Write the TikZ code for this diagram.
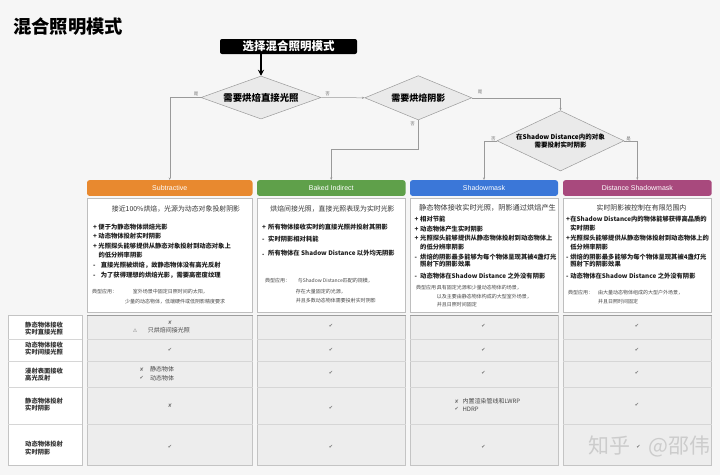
\documentclass[tikz,border=0pt]{standalone}
\usepackage{fontspec}
\setmainfont{Noto Sans CJK SC}
\newfontfamily\hdrfont{Liberation Sans}
\newfontfamily\symfont{DejaVu Sans}
\usetikzlibrary{shapes.geometric,arrows.meta}
\newcommand\fsz[1]{\fontsize{#1}{#1}\selectfont}
\newcommand\pfx[2]{\makebox[#1][l]{#2}}
\definecolor{bgc}{HTML}{F6F6F6}
\definecolor{cOrange}{HTML}{E8892F}
\definecolor{cGreen}{HTML}{5FA04A}
\definecolor{cBlue}{HTML}{3B77D8}
\definecolor{cPurple}{HTML}{A8497D}
\definecolor{lineG}{HTML}{9A9A9A}
\definecolor{dfill}{HTML}{EAEAEA}
\definecolor{cellF}{HTML}{EDEDED}
\definecolor{cellB}{HTML}{C4C4C4}
\definecolor{rowL}{HTML}{D6D6D6}
\definecolor{boxB}{HTML}{BEBEBE}
\tikzset{
  hdr/.style={rounded corners=2.5pt, inner sep=0, minimum height=15.7pt, text=white, font=\hdrfont\fsz{7}},
  cbox/.style={draw=boxB, fill=white, line width=0.5pt, inner sep=0},
  dia/.style={diamond, draw=lineG, fill=dfill, line width=0.5pt, inner sep=0},
  conn/.style={draw=lineG, line width=0.5pt, -{Stealth[length=2.6pt,width=2.2pt]}},
  lbl/.style={font=\fsz{4.5}, text=black!55, inner sep=0},
  ttl/.style={inner sep=0, anchor=center, font=\fsz{6.9}, text=black!80},
  item/.style={inner sep=0, anchor=west, font=\bfseries\fsz{6.3}, text=black!88},
  typ/.style={inner sep=0, anchor=west, font=\fsz{5}, text=black!72},
  lab/.style={anchor=west, inner sep=0, align=left, font=\bfseries\fontsize{6.3}{7.4}\selectfont, text=black!80},
  sym/.style={inner sep=0, font=\symfont\fsz{5}, text=black!55},
  ctext/.style={inner sep=0, anchor=west, font=\fsz{6}, text=black!72},
  wmark/.style={anchor=west, inner sep=0, font=\fsz{21}, text=black!20},
}
\begin{document}
\begin{tikzpicture}[x=1pt,y=-1pt]
\fill[bgc] (0,0) rectangle (720,475);
\useasboundingbox (0,0) rectangle (720,475);

% title
\node[anchor=west, font=\bfseries\fsz{18.3}, inner sep=0] (title) at (13,27) {混合照明模式};

% flow
\node[fill=black, rounded corners=2pt, minimum width=137pt, minimum height=15pt, text=white, font=\bfseries\fsz{11.5}, inner sep=0] (start) at (288.5,46.5) {选择混合照明模式};
\node[dia, minimum width=120pt, minimum height=43pt, shape aspect=2.8, font=\bfseries\fsz{9.4}] (d1) at (261,97.5) {需要烘焙直接光照};
\node[dia, minimum width=107pt, minimum height=44.3pt, shape aspect=2.4, font=\bfseries\fsz{9}] (d2) at (418.3,97.8) {需要烘焙阴影};
\node[dia, minimum width=127pt, minimum height=60.3pt, shape aspect=2.1, align=center, font=\bfseries\fontsize{6.5}{8.4}\selectfont] (d3) at (560.5,140.8) {在Shadow Distance内的对象\\需要投射实时阴影};

% headers
\node[hdr, fill=cOrange, minimum width=165.5pt] (subh) at (169.75,188) {Subtractive};
\node[hdr, fill=cGreen, minimum width=148.5pt] (bakh) at (331.25,188) {Baked Indirect};
\node[hdr, fill=cBlue, minimum width=148pt] (smh) at (484,188) {Shadowmask};
\node[hdr, fill=cPurple, minimum width=148.7pt] (dsh) at (637.35,188) {Distance Shadowmask};

% connectors
\draw[line width=1.6pt, -{Stealth[length=6pt,width=6pt]}] (start.south -| d1.north) -- (d1.north);
\coordinate (kinkB) at (418.3,149);
\draw[conn] (d1.west) -| (subh.north);
\draw[conn] (d1.east) -- (d2.west);
\draw[conn] (d2.south) -- (kinkB) -| (bakh.north);
\draw[conn] (d2.east) -| (d3.north);
\draw[conn] (d3.west) -| (smh.north);
\draw[conn] (d3.east) -| (dsh.north);
\node[lbl] (l1) at (196,94) {是};
\node[lbl] (l2) at (327.7,94) {否};
\node[lbl] (l3) at (480,92.3) {是};
\node[lbl] (l4) at (412.7,123.5) {否};
\node[lbl] (l5) at (493.3,138.7) {否};
\node[lbl] (l6) at (628.7,139.3) {是};

% content boxes
\node[cbox, minimum width=165.5pt, minimum height=114pt] (subb) at (169.75,255) {};
\node[cbox, minimum width=148.5pt, minimum height=114pt] (bakb) at (331.25,255) {};
\node[cbox, minimum width=148pt, minimum height=114pt] (smb) at (484,255) {};
\node[cbox, minimum width=148.7pt, minimum height=114pt] (dsb) at (637.35,255) {};

% Subtractive text
\node[ttl] (s0) at (176,209) {接近100\%烘焙，光源为动态对象投射阴影};
\node[item] (s1) at (93,226.7) {\pfx{5.3pt}{+}便于为静态物体烘焙光影};
\node[item] (s2) at (93,236) {\pfx{5.3pt}{+}动态物体投射实时阴影};
\node[item] (s3) at (93,245.7) {\pfx{5.3pt}{+}光照探头能够提供从静态对象投射到动态对象上};
\node[item] (s4) at (98.3,255) {的低分辨率阴影};
\node[item] (s5) at (93,265.7) {\pfx{7.7pt}{-}直接光照被烘焙，故静态物体没有高光反射};
\node[item] (s6) at (93,275) {\pfx{7.7pt}{-}为了获得理想的烘焙光影，需要高密度纹理};
\node[typ] (s7) at (92,292) {典型应用：};
\node[typ] (s8) at (132.7,292) {室外场景中固定日照时间的太阳，};
\node[typ] (s9) at (125,302) {少量的动态物体，低端硬件或低阴影精度要求};

% Baked Indirect text
\node[ttl] (b0) at (332.5,209) {烘焙间接光照，直接光照表现为实时光影};
\node[item] (b1) at (262,227) {\pfx{6pt}{+}所有物体接收实时的直接光照并投射其阴影};
\node[item] (b2) at (262,239) {\pfx{6pt}{-}实时阴影相对耗能};
\node[item] (b3) at (262,253) {\pfx{6pt}{.}所有物体在 Shadow Distance 以外均无阴影};
\node[typ] (b4) at (265,281) {典型应用：};
\node[typ] (b5) at (297.7,281) {与Shadow Distance匹配的规模，};
\node[typ] (b6) at (295.7,291.7) {存在大量固定的光源，};
\node[typ] (b7) at (295.7,300.3) {并且多数动态物体需要投射实时阴影};

% Shadowmask text
\node[ttl, font=\fsz{7.2}] (m0) at (487.5,208) {静态物体接收实时光照，阴影通过烘焙产生};
\node[item] (m1) at (414.5,219.3) {\pfx{5.5pt}{+}相对节能};
\node[item] (m2) at (414.5,229.3) {\pfx{5.5pt}{+}动态物体产生实时阴影};
\node[item] (m3) at (414.5,238.3) {\pfx{5.5pt}{+}光照探头能够提供从静态物体投射到动态物体上};
\node[item] (m4) at (420,246.7) {的低分辨率阴影};
\node[item] (m5) at (414.5,256.7) {\pfx{5.5pt}{-}烘焙的阴影最多能够为每个物体呈现其被4盏灯光};
\node[item] (m6) at (420,264.3) {照射下的阴影效果};
\node[item] (m7) at (414.5,275.7) {\pfx{5.5pt}{-}动态物体在Shadow Distance 之外没有阴影};
\node[typ] (m8) at (416,287.7) {典型应用：};
\node[typ] (m9) at (436.7,287.7) {具有固定光源和少量动态物体的场景，};
\node[typ] (m10) at (436.7,296.7) {以及主要由静态物体构成的大型室外场景，};
\node[typ] (m11) at (436.7,304.3) {并且日照时间固定};

% Distance Shadowmask text
\node[ttl] (x0) at (641.5,208.3) {实时阴影被控制在有限范围内};
\node[item] (x1) at (566,219.3) {\pfx{4.2pt}{+}在Shadow Distance内的物体能够获得高品质的};
\node[item] (x2) at (570.2,227.7) {实时阴影};
\node[item] (x3) at (566,238.3) {\pfx{4.2pt}{+}光照探头能够提供从静态物体投射到动态物体上的};
\node[item] (x4) at (570.2,246.7) {低分辨率阴影};
\node[item] (x5) at (566,256.7) {\pfx{4.2pt}{-}烘焙的阴影最多能够为每个物体呈现其被4盏灯光};
\node[item] (x6) at (570.2,264.3) {照射下的阴影效果};
\node[item] (x7) at (566,275.7) {\pfx{4.2pt}{-}动态物体在Shadow Distance 之外没有阴影};
\node[typ] (x8) at (568,292.3) {典型应用：};
\node[typ] (x9) at (598,292.3) {由大量动态物体组成的大型户外场景，};
\node[typ] (x10) at (598,301.7) {并且日照时间固定};

% table
\draw[cellB, fill=white, line width=0.5pt] (8,315) rectangle (82,465);
\foreach \y in {339,361,387,424} \draw[rowL, line width=0.4pt] (8,\y) -- (82,\y);
\foreach \l/\r in {87/252.5, 257/405.5, 410/558, 563/711.7} {
  \draw[cellB, fill=cellF, line width=0.5pt] (\l,315) rectangle (\r,465);
  \draw[cellB!80!black, line width=0.8pt] (\l,315.4) -- (\r,315.4);
  \foreach \y in {339,361,387,424} \draw[rowL, line width=0.4pt] (\l,\y) -- (\r,\y);
}
\node[lab] (rl1) at (25,328.7) {静态物体接收\\实时直接光照};
\node[lab] (rl2) at (25,348.7) {动态物体接收\\实时间接光照};
\node[lab] (rl3) at (25,374.7) {漫射表面接收\\高光反射};
\node[lab] (rl4) at (25,404.5) {静态物体投射\\实时阴影};
\node[lab] (rl5) at (25,448) {动态物体投射\\实时阴影};

% Subtractive cells
\node[sym] (a1x) at (170,322.3) {✘};
\node[sym] (a1w) at (135,330.7) {⚠};
\node[ctext] (a1t) at (147.7,330.7) {只烘焙间接光照};
\node[sym] (a2) at (170,349.5) {✔};
\node[sym] (a3x) at (141.7,369.3) {✘};
\node[ctext] (a3t1) at (150,369.3) {静态物体};
\node[sym] (a3c) at (141.7,377.7) {✔};
\node[ctext] (a3t2) at (150,377.7) {动态物体};
\node[sym] (a4) at (170,405.7) {✘};
\node[sym] (a5) at (170,446.7) {✔};
% Baked cells
\foreach \i/\y in {1/326, 2/349.5, 3/373.3, 4/407.7, 5/446.7}
  \node[sym] (bk\i) at (331,\y) {✔};
% Shadowmask cells
\foreach \i/\y in {1/326, 2/349.5, 3/373.3, 5/446.7}
  \node[sym] (sm\i) at (483.5,\y) {✔};
\node[sym] (sm4x) at (456.7,401.7) {✘};
\node[ctext] (sm4t1) at (462.3,401.7) {内置渲染管线和LWRP};
\node[sym] (sm4c) at (456.7,409) {✔};
\node[ctext] (sm4t2) at (462.3,409) {HDRP};
% Distance cells
\foreach \i/\y in {1/326, 2/349.5, 3/372.7, 4/405}
  \node[sym] (ds\i) at (637,\y) {✔};

% watermark
\node[wmark] (wm1) at (588,446) {知乎};
\node[wmark] (wm2) at (648,446) {@邵伟};
\node[sym] (ds5) at (638.5,446.7) {✔};
\end{tikzpicture}
\end{document}
